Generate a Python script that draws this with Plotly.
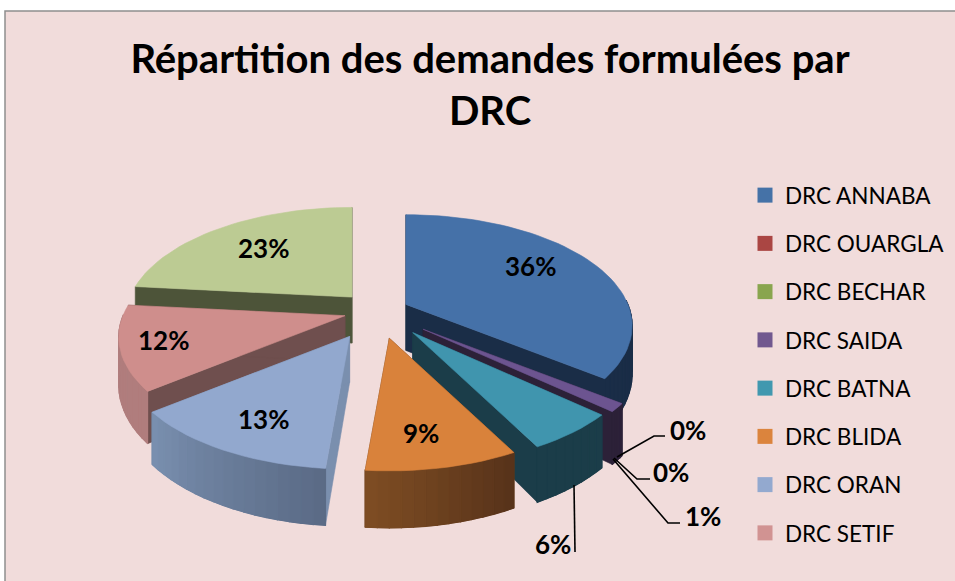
import math
import plotly.graph_objects as go

# ---- data (clockwise from 12 o'clock) ----
categories = ["DRC ANNABA", "DRC OUARGLA", "DRC BECHAR", "DRC SAIDA", "DRC BATNA",
              "DRC BLIDA", "DRC ORAN", "DRC SETIF", "Autre (hors légende)"]
values = [35.5, 0, 0, 1.2, 5.6, 9.1, 12.9, 12.3, 23.4]
in_legend = [True, True, True, True, True, True, True, True, False]

# ---- style ----
top_colors = ["#4571a8", "#aa4643", "#8ba64f", "#6c5490", "#4095ae", "#d9823b", "#92a8ce", "#cf8e8c", "#bccb93"]
legend_colors = ["#4572a7", "#aa4643", "#89a54e", "#71588f", "#4198af", "#db843d", "#93a9cf", "#d19392", "#b9cd96"]
radial_colors = ["#1a2d47", "#44201f", "#4d5439", "#2c2138", "#1b3d49", "#6a3f1e", "#7a8fae", "#6f4f4e", "#4d5439"]
outer_start = ["#1a2d47", "#44201f", "#4d5439", "#2c2138", "#1b3d49", "#56321a", "#5a6a85", "#b07d7d", "#9fb07a"]
outer_end = ["#1a2d47", "#44201f", "#4d5439", "#2c2138", "#1b3d49", "#7f4d23", "#7a90b0", "#b07d7d", "#9fb07a"]
explode = [0.14, 0, 0, 0.265, 0.255, 0.26, 0.27, 0.155, 0.175]
draw_order = [8, 0, 3, 4, 7, 6, 5]

CX, CY, RX, RY, K, DEPTH = 378, 311, 222, 107, 0.193, 46
BG = "#f1dcdb"


def apex_of(ex, mid):
    ox = ex * math.sin(math.radians(mid))
    oy = ex * math.cos(math.radians(mid))
    return CX + RX * ox, CY - RY * oy


def project(angle, apex):
    X = math.sin(math.radians(angle))
    Y = math.cos(math.radians(angle))
    s = 1 / (1 + K * Y)
    return apex[0] + RX * X * s, apex[1] - RY * Y * s, DEPTH * s


def hex_mix(a, b, t):
    ca = [int(a[i:i + 2], 16) for i in (1, 3, 5)]
    cb = [int(b[i:i + 2], 16) for i in (1, 3, 5)]
    return "#%02x%02x%02x" % tuple(round(p + (q - p) * t) for p, q in zip(ca, cb))


def poly(pts, color, width=0.6):
    xs = [p[0] for p in pts] + [pts[0][0]]
    ys = [p[1] for p in pts] + [pts[0][1]]
    return go.Scatter(x=xs, y=ys, mode="lines", fill="toself", fillcolor=color,
                      line=dict(color=color, width=width), showlegend=False, hoverinfo="skip")


fig = go.Figure()

# angular spans from the values
total = sum(values)
spans, acc = [], 0.0
for v in values:
    spans.append((acc / total * 360, (acc + v) / total * 360))
    acc += v

for i in draw_order:
    a0, a1 = spans[i]
    apex = apex_of(explode[i], (a0 + a1) / 2)
    n = max(4, int((a1 - a0) / 2.5))
    angles = [a0 + (a1 - a0) * j / n for j in range(n + 1)]
    rim = [project(a, apex) for a in angles]

    # radial walls
    for p in (rim[0], rim[-1]):
        fig.add_trace(poly([apex, (p[0], p[1]), (p[0], p[1] + p[2]), (apex[0], apex[1] + DEPTH)], radial_colors[i]))
    # outer wall: a solid base, then shading along the arc
    front = [j for j in range(n) if 90 < angles[j] < 270 or 90 < angles[j + 1] < 270]
    if front:
        upper = [(rim[j][0], rim[j][1]) for j in front] + [(rim[front[-1] + 1][0], rim[front[-1] + 1][1])]
        lower = [(rim[j][0], rim[j][1] + rim[j][2]) for j in front] + \
                [(rim[front[-1] + 1][0], rim[front[-1] + 1][1] + rim[front[-1] + 1][2])]
        fig.add_trace(poly(upper + lower[::-1], hex_mix(outer_start[i], outer_end[i], 0.5)))
    for j in front:
        p, q = rim[j], rim[j + 1]
        col = hex_mix(outer_start[i], outer_end[i], (j + 0.5) / n)
        fig.add_trace(poly([(p[0], p[1]), (q[0], q[1]), (q[0], q[1] + q[2]), (p[0], p[1] + p[2])], col, 1.2))
    # top face
    fig.add_trace(poly([apex] + [(p[0], p[1]) for p in rim], top_colors[i]))

# legend entries
for name, col, show in zip(categories, legend_colors, in_legend):
    if show:
        fig.add_trace(go.Scatter(x=[None], y=[None], mode="markers", name=name, legendgroup=name,
                                 marker=dict(symbol="square", size=15, color=col)))

# value labels
label_xy = [(530, 266), (688, 430), (671, 472), (703, 516), (553, 544), (421, 433), (263, 419), (163, 340), (263, 248)]
for v, (x, y) in zip(values, label_xy):
    fig.add_annotation(x=x, y=y, text=f"<b>{v:.0f}%</b>", showarrow=False,
                       font=dict(family="Lato", size=26, color="#000000"))

# leader lines
leaders = [[(617, 457), (654, 436), (665, 436)],
           [(614, 458), (637, 479), (650, 479)],
           [(613, 459), (668, 523), (680, 523)],
           [(574, 485), (575, 552)]]
for pts in leaders:
    fig.add_trace(go.Scatter(x=[p[0] for p in pts], y=[p[1] for p in pts], mode="lines",
                             line=dict(color="#000000", width=1.6), showlegend=False, hoverinfo="skip"))

W, H = 955, 581
fig.update_layout(
    width=W, height=H,
    margin=dict(l=0, r=0, t=0, b=0),
    paper_bgcolor="#ffffff", plot_bgcolor="#ffffff",
    xaxis=dict(range=[0, 955], visible=False, fixedrange=True),
    yaxis=dict(range=[581, 0], visible=False, fixedrange=True),
    title=dict(text="<b>Répartition des demandes formulées par<br>DRC</b>",
               x=490 / W, xanchor="center", y=1 - 73 / H, yanchor="top",
               font=dict(family="Lato", size=40, color="#000000")),
    legend=dict(x=745 / W, xanchor="left", y=1 - 174 / H, yanchor="top", bgcolor="rgba(0,0,0,0)",
                font=dict(family="Lato", size=22.5, color="#000000"),
                tracegroupgap=16, itemwidth=30),
    shapes=[dict(type="rect", xref="x", yref="y", x0=5, y0=11, x1=965, y1=595, layer="below",
                 fillcolor=BG, line=dict(color="#8f8f8f", width=1.5))],
)

fig.write_html("out.html", config={"displayModeBar": False},
               post_script="document.body.style.margin='0';")
